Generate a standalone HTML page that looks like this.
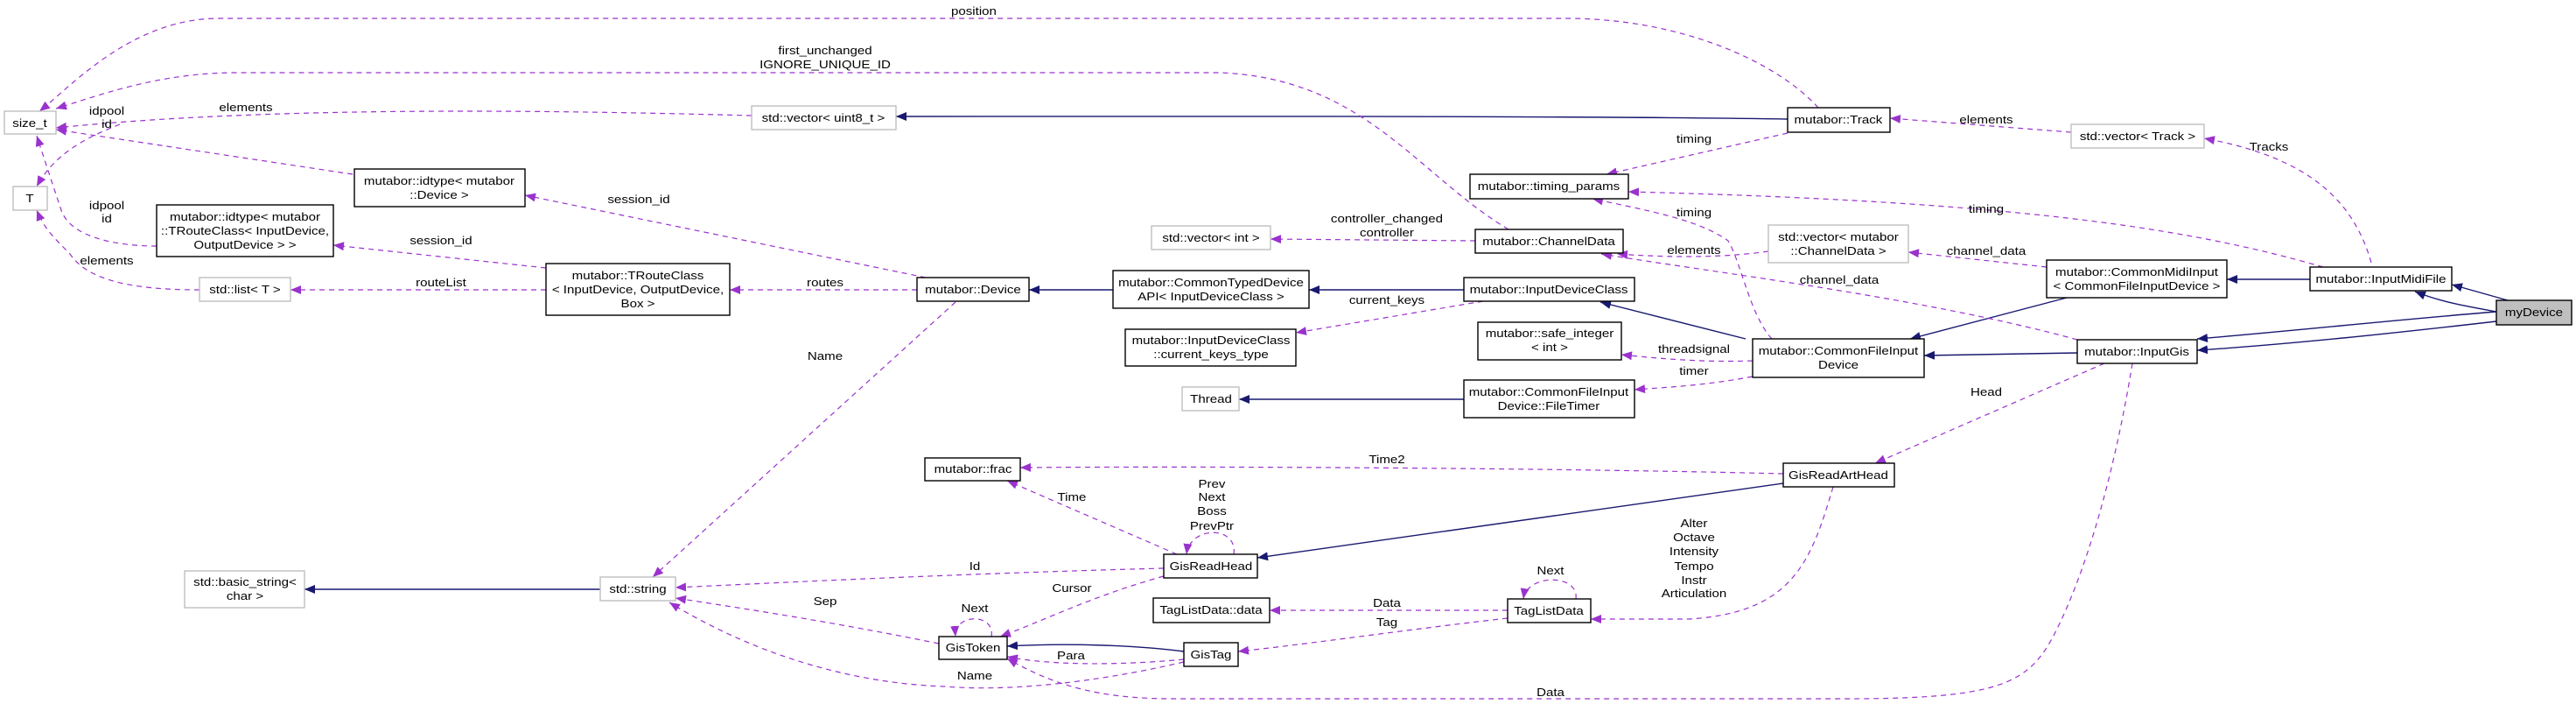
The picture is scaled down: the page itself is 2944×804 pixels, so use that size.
<!DOCTYPE html>
<html><head><meta charset="utf-8"><style>
html,body{margin:0;padding:0;background:#fff;}
svg{display:block;}
text{font-family:"Liberation Sans",sans-serif;font-size:13px;fill:#000;text-anchor:middle;transform-box:fill-box;transform-origin:center;transform:scaleX(1.16);}
.n{fill:#fff;stroke:#000;stroke-width:1.4;}
.g{fill:#fff;stroke:#bfbfbf;stroke-width:1.4;}
.d{fill:none;stroke:#9a32cd;stroke-width:1.2;stroke-dasharray:6,5;marker-end:url(#pa);}
.s{fill:none;stroke:#191970;stroke-width:1.4;marker-end:url(#na);}
</style></head><body>
<svg width="2944" height="804" viewBox="0 0 2944 804" xmlns="http://www.w3.org/2000/svg">
<defs>
<marker id="pa" markerUnits="userSpaceOnUse" markerWidth="14" markerHeight="10" refX="12" refY="5" orient="auto"><path d="M0,0 L12,5 L0,10 z" fill="#9a32cd"/></marker>
<marker id="na" markerUnits="userSpaceOnUse" markerWidth="14" markerHeight="10" refX="12" refY="5" orient="auto"><path d="M0,0 L12,5 L0,10 z" fill="#191970"/></marker>
</defs>

<!-- solid inheritance edges -->
<path class="s" d="M2866,343 L2802,325"/>
<path class="s" d="M2853,356 C2820,350 2790,345 2760,333"/>
<path class="s" d="M2853,356 C2740,365 2620,378 2511,387"/>
<path class="s" d="M2853,367 C2740,380 2620,393 2511,400"/>
<path class="s" d="M2640,319 L2545,319"/>
<path class="s" d="M2362,340 L2183,387"/>
<path class="s" d="M2374,403 L2199,406"/>
<path class="s" d="M1995,387 L1829,345"/>
<path class="s" d="M1673,331 L1496,331"/>
<path class="s" d="M1272,331 L1176,331"/>
<path class="s" d="M2043,136 C1800,132 1300,133 1024,133"/>
<path class="s" d="M1673,456 L1416,456"/>
<path class="s" d="M2038,552 L1437,637"/>
<path class="s" d="M1353,744 C1300,737 1220,734 1151,738"/>
<path class="s" d="M686,673 L348,673"/>

<!-- dashed edges -->
<path class="d" d="M2078,123 C2030,70 1920,21 1790,21 L250,21 C150,21 80,100 45,127"/>
<path class="d" d="M1724,262 C1620,200 1560,90 1395,83 L270,83 C180,83 110,110 64,124"/>
<path class="d" d="M859,132 C600,125 300,122 64,146"/>
<path class="d" d="M403,199 L64,148"/>
<path class="d" d="M137,142 C90,160 60,180 42,213"/>
<path class="d" d="M179,281 C130,281 80,270 70,240 C60,210 50,180 42,155"/>
<path class="d" d="M228,331 C150,331 100,320 80,290 C60,270 50,260 42,240"/>
<path class="d" d="M624,306 L381,280"/>
<path class="d" d="M624,331 L332,331"/>
<path class="d" d="M1048,331 L834,331"/>
<path class="d" d="M1058,317 L600,223"/>
<path class="d" d="M1092,345 L746,659"/>
<path class="d" d="M1686,275 L1452,273"/>
<path class="d" d="M1695,344 L1481,380"/>
<path class="d" d="M2043,152 L1836,199"/>
<path class="d" d="M2655,305 C2500,260 2300,230 1861,219"/>
<path class="d" d="M2025,387 C2000,360 1990,300 1975,275 C1940,250 1880,240 1820,227"/>
<path class="d" d="M2021,287 C1960,296 1890,293 1848,290"/>
<path class="d" d="M2374,388 C2200,340 1950,310 1830,290"/>
<path class="d" d="M2339,305 L2181,288"/>
<path class="d" d="M2710,300 C2690,230 2640,180 2519,158"/>
<path class="d" d="M2367,151 L2160,135"/>
<path class="d" d="M2003,412 C1950,414 1900,410 1853,405"/>
<path class="d" d="M2003,430 C1950,440 1910,442 1868,445"/>
<path class="d" d="M2405,415 L2143,529"/>
<path class="d" d="M2437,415 C2420,520 2390,640 2350,720 C2320,780 2290,798 2110,798 L1340,798 C1250,798 1200,780 1151,752"/>
<path class="d" d="M2038,541 C1800,535 1400,532 1166,534"/>
<path class="d" d="M2095,556 C2070,640 2050,700 1930,707 L1818,707"/>
<path class="d" d="M1345,633 L1151,549"/>
<path class="d" d="M1410,633 C1415,600 1360,600 1356,633"/>
<path class="d" d="M1330,649 C1100,655 900,665 772,671"/>
<path class="d" d="M1330,658 C1250,680 1190,710 1143,727"/>
<path class="d" d="M1723,697 L1451,697"/>
<path class="d" d="M1723,706 C1600,720 1500,735 1415,744"/>
<path class="d" d="M1801,684 C1805,655 1745,655 1741,684"/>
<path class="d" d="M1133,727 C1138,700 1090,700 1092,727"/>
<path class="d" d="M1073,735 C950,710 850,695 772,683"/>
<path class="d" d="M1353,753 C1280,760 1200,760 1151,750"/>
<path class="d" d="M1353,756 C1250,780 1150,790 1080,784 C960,780 850,740 765,688"/>

<!-- nodes -->
<rect class="g" x="5" y="127" width="59" height="26"/><text x="34" y="145">size_t</text>
<rect class="g" x="15" y="213" width="39" height="27"/><text x="34" y="231">T</text>
<rect class="n" x="405" y="193" width="195" height="43"/><text x="502" y="211">mutabor::idtype&lt; mutabor</text><text x="502" y="227">::Device &gt;</text>
<rect class="n" x="179" y="234" width="202" height="59"/><text x="280" y="252">mutabor::idtype&lt; mutabor</text><text x="280" y="268">::TRouteClass&lt; InputDevice,</text><text x="280" y="284">OutputDevice &gt; &gt;</text>
<rect class="g" x="228" y="317" width="104" height="27"/><text x="280" y="335">std::list&lt; T &gt;</text>
<rect class="n" x="624" y="301" width="210" height="59"/><text x="729" y="319">mutabor::TRouteClass</text><text x="729" y="335">&lt; InputDevice, OutputDevice,</text><text x="729" y="351">Box &gt;</text>
<rect class="g" x="859" y="121" width="165" height="27"/><text x="941" y="139">std::vector&lt; uint8_t &gt;</text>
<rect class="g" x="211" y="652" width="137" height="42"/><text x="280" y="669">std::basic_string&lt;</text><text x="280" y="685">char &gt;</text>
<rect class="g" x="686" y="659" width="86" height="27"/><text x="729" y="677">std::string</text>
<rect class="n" x="1048" y="317" width="128" height="27"/><text x="1112" y="335">mutabor::Device</text>
<rect class="n" x="1272" y="309" width="224" height="43"/><text x="1384" y="327">mutabor::CommonTypedDevice</text><text x="1384" y="343">API&lt; InputDeviceClass &gt;</text>
<rect class="g" x="1316" y="258" width="136" height="27"/><text x="1384" y="276">std::vector&lt; int &gt;</text>
<rect class="n" x="1686" y="262" width="169" height="27"/><text x="1770" y="280">mutabor::ChannelData</text>
<rect class="n" x="1680" y="199" width="181" height="28"/><text x="1770" y="217">mutabor::timing_params</text>
<rect class="n" x="1673" y="317" width="195" height="27"/><text x="1770" y="335">mutabor::InputDeviceClass</text>
<rect class="n" x="1286" y="376" width="195" height="42"/><text x="1384" y="393">mutabor::InputDeviceClass</text><text x="1384" y="409">::current_keys_type</text>
<rect class="n" x="1689" y="368" width="164" height="43"/><text x="1771" y="385">mutabor::safe_integer</text><text x="1771" y="401">&lt; int &gt;</text>
<rect class="g" x="1351" y="442" width="65" height="27"/><text x="1384" y="460">Thread</text>
<rect class="n" x="1673" y="434" width="195" height="43"/><text x="1770" y="452">mutabor::CommonFileInput</text><text x="1770" y="468">Device::FileTimer</text>
<rect class="n" x="1057" y="523" width="109" height="26"/><text x="1112" y="540">mutabor::frac</text>
<rect class="n" x="1330" y="633" width="107" height="27"/><text x="1384" y="651">GisReadHead</text>
<rect class="n" x="1073" y="727" width="78" height="26"/><text x="1112" y="744">GisToken</text>
<rect class="n" x="1318" y="683" width="133" height="28"/><text x="1384" y="701">TagListData::data</text>
<rect class="n" x="1723" y="684" width="95" height="27"/><text x="1770" y="702">TagListData</text>
<rect class="n" x="1353" y="734" width="62" height="27"/><text x="1384" y="752">GisTag</text>
<rect class="n" x="2043" y="123" width="117" height="28"/><text x="2101" y="141">mutabor::Track</text>
<rect class="g" x="2367" y="142" width="152" height="27"/><text x="2443" y="160">std::vector&lt; Track &gt;</text>
<rect class="g" x="2021" y="257" width="160" height="43"/><text x="2101" y="275">std::vector&lt; mutabor</text><text x="2101" y="291">::ChannelData &gt;</text>
<rect class="n" x="2339" y="297" width="206" height="43"/><text x="2442" y="315">mutabor::CommonMidiInput</text><text x="2442" y="331">&lt; CommonFileInputDevice &gt;</text>
<rect class="n" x="2640" y="305" width="162" height="27"/><text x="2721" y="323">mutabor::InputMidiFile</text>
<rect x="2853" y="343" width="86" height="28" fill="#bfbfbf" stroke="#000" stroke-width="1.4"/><text x="2896" y="361">myDevice</text>
<rect class="n" x="2003" y="387" width="196" height="44"/><text x="2101" y="405">mutabor::CommonFileInput</text><text x="2101" y="421">Device</text>
<rect class="n" x="2374" y="388" width="137" height="27"/><text x="2442" y="406">mutabor::InputGis</text>
<rect class="n" x="2038" y="529" width="127" height="27"/><text x="2101" y="547">GisReadArtHead</text>

<!-- edge labels -->
<text x="1113" y="17">position</text>
<text x="943" y="62">first_unchanged</text><text x="943" y="78">IGNORE_UNIQUE_ID</text>
<text x="281" y="127">elements</text>
<text x="122" y="131">idpool</text><text x="122" y="146">id</text>
<text x="122" y="239">idpool</text><text x="122" y="254">id</text>
<text x="122" y="302">elements</text>
<text x="730" y="232">session_id</text>
<text x="504" y="279">session_id</text>
<text x="504" y="327">routeList</text>
<text x="943" y="327">routes</text>
<text x="943" y="411">Name</text>
<text x="1936" y="163">timing</text>
<text x="1936" y="247">timing</text>
<text x="1585" y="254">controller_changed</text><text x="1585" y="270">controller</text>
<text x="1936" y="290">elements</text>
<text x="1585" y="347">current_keys</text>
<text x="1936" y="403">threadsignal</text>
<text x="1936" y="428">timer</text>
<text x="2270" y="141">elements</text>
<text x="2593" y="172">Tracks</text>
<text x="2270" y="243">timing</text>
<text x="2270" y="291">channel_data</text>
<text x="2102" y="324">channel_data</text>
<text x="2270" y="452">Head</text>
<text x="1585" y="529">Time2</text>
<text x="1225" y="572">Time</text>
<text x="1385" y="557">Prev</text><text x="1385" y="572">Next</text><text x="1385" y="588">Boss</text><text x="1385" y="605">PrevPtr</text>
<text x="1114" y="651">Id</text>
<text x="1225" y="676">Cursor</text>
<text x="1114" y="699">Next</text>
<text x="943" y="691">Sep</text>
<text x="1585" y="693">Data</text>
<text x="1585" y="715">Tag</text>
<text x="1772" y="656">Next</text>
<text x="1224" y="753">Para</text>
<text x="1114" y="776">Name</text>
<text x="1772" y="795">Data</text>
<text x="1936" y="602">Alter</text><text x="1936" y="618">Octave</text><text x="1936" y="634">Intensity</text><text x="1936" y="651">Tempo</text><text x="1936" y="667">Instr</text><text x="1936" y="682">Articulation</text>
</svg>
</body></html>
